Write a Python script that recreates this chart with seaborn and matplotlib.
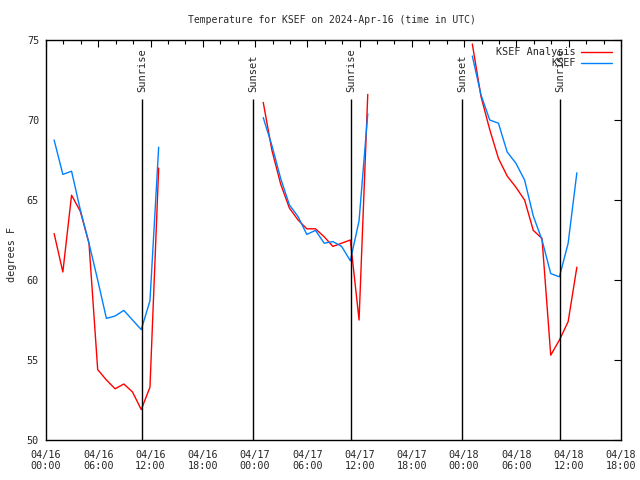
import pandas as pd
import numpy as np
import matplotlib
matplotlib.use("Agg")
import matplotlib.pyplot as plt
import matplotlib.dates as mdates
import seaborn as sns

# hourly obs, three overnight stretches (UTC)
seg_starts = ["2024-04-16 00:56", "2024-04-17 00:56", "2024-04-18 00:56"]

analysis_1 = [62.9, 60.5, 65.3, 64.3, 62.3, 54.4, 53.75, 53.2, 53.5, 53.0, 51.9, 53.3, 67.0]
analysis_2 = [71.1, 68.1, 66.0, 64.5, 63.75, 63.2, 63.2, 62.7, 62.1, 62.3, 62.5, 57.5, 71.6]
analysis_3 = [74.75, 71.46, 69.4, 67.6, 66.5, 65.8, 65.0, 63.1, 62.6, 55.3, 56.25, 57.4, 60.8]

ksef_1 = [68.75, 66.6, 66.8, 64.4, 62.3, 60.0, 57.6, 57.75, 58.1, 57.5, 56.9, 58.7, 68.3]
ksef_2 = [70.15, 68.4, 66.35, 64.7, 63.96, 62.85, 63.1, 62.3, 62.4, 62.1, 61.2, 63.7, 70.4]
ksef_3 = [74.0, 71.56, 70.0, 69.8, 68.0, 67.3, 66.25, 64.0, 62.5, 60.4, 60.2, 62.3, 66.7]

sun_times = ["2024-04-16 11:01", "2024-04-16 23:46", "2024-04-17 11:00",
             "2024-04-17 23:46", "2024-04-18 10:59"]
sun_labels = ["Sunrise", "Sunset", "Sunrise", "Sunset", "Sunrise"]

rows = []
for i, (start, a, k) in enumerate(zip(seg_starts, [analysis_1, analysis_2, analysis_3],
                                      [ksef_1, ksef_2, ksef_3])):
    times = pd.date_range(start, periods=len(a), freq="h")
    for t, va, vk in zip(times, a, k):
        rows.append({"time": t, "temp": va, "series": "KSEF Analysis", "seg": i})
        rows.append({"time": t, "temp": vk, "series": "KSEF", "seg": i})
df = pd.DataFrame(rows)

sns.set_style("white")
plt.rcParams["font.family"] = ["DejaVu Sans Mono"]
plt.rcParams["font.size"] = 7

fig = plt.figure(figsize=(6.4, 4.8), dpi=100)
ax = fig.add_axes([46 / 640, 1 - 440 / 480, 575 / 640, 400 / 480])

palette = {"KSEF Analysis": "#ff0000", "KSEF": "#0080ff"}
sns.lineplot(data=df, x="time", y="temp", hue="series", units="seg", estimator=None,
             palette=palette, linewidth=1.0, ax=ax, legend=False)

for t, lab in zip(sun_times, sun_labels):
    x = mdates.date2num(pd.Timestamp(t))
    ax.vlines(x, 50, 71.3, color="black", linewidth=1.0)
    ax.text(x, 71.75, lab, rotation=90, ha="center", va="bottom", fontsize=7.5)

ax.set_xlim(pd.Timestamp("2024-04-16 00:00"), pd.Timestamp("2024-04-18 18:00"))
ax.set_ylim(50, 75)
ax.set_yticks(np.arange(50, 76, 5))
ax.xaxis.set_major_locator(mdates.HourLocator(byhour=[0, 6, 12, 18]))
ax.xaxis.set_minor_locator(mdates.HourLocator(byhour=range(0, 24, 2)))
ax.xaxis.set_major_formatter(mdates.DateFormatter("%m/%d\n%H:%M"))
ax.tick_params(axis="both", which="both", direction="in", top=True, right=True,
               labelsize=7.3, width=0.8, color="black")
ax.tick_params(axis="both", which="major", length=5)
ax.tick_params(axis="x", which="minor", length=3)
ax.tick_params(axis="x", which="major", pad=7)
ax.tick_params(axis="y", which="major", pad=5)
for s in ax.spines.values():
    s.set_color("black")
    s.set_linewidth(1.0)
ax.set_xlabel("")
ax.set_ylabel("")

# legend: text first, then line sample
handles = [plt.Line2D([], [], color=palette[n], linewidth=1.0) for n in ["KSEF Analysis", "KSEF"]]
ax.legend(handles, ["KSEF Analysis", "KSEF"], loc="upper right", bbox_to_anchor=(1.0, 1.005),
          frameon=False, markerfirst=False, handlelength=3.0, handletextpad=0.6,
          labelspacing=0.1, fontsize=7.3)

fig.text(0.519, 1 - 20 / 480, "Temperature for KSEF on 2024-Apr-16 (time in UTC)",
         ha="center", va="center", fontsize=7.0)
fig.text(0.019, 0.47, "degrees F", rotation=90, ha="center", va="center", fontsize=7.3)

fig.savefig("out.png", dpi=100)
